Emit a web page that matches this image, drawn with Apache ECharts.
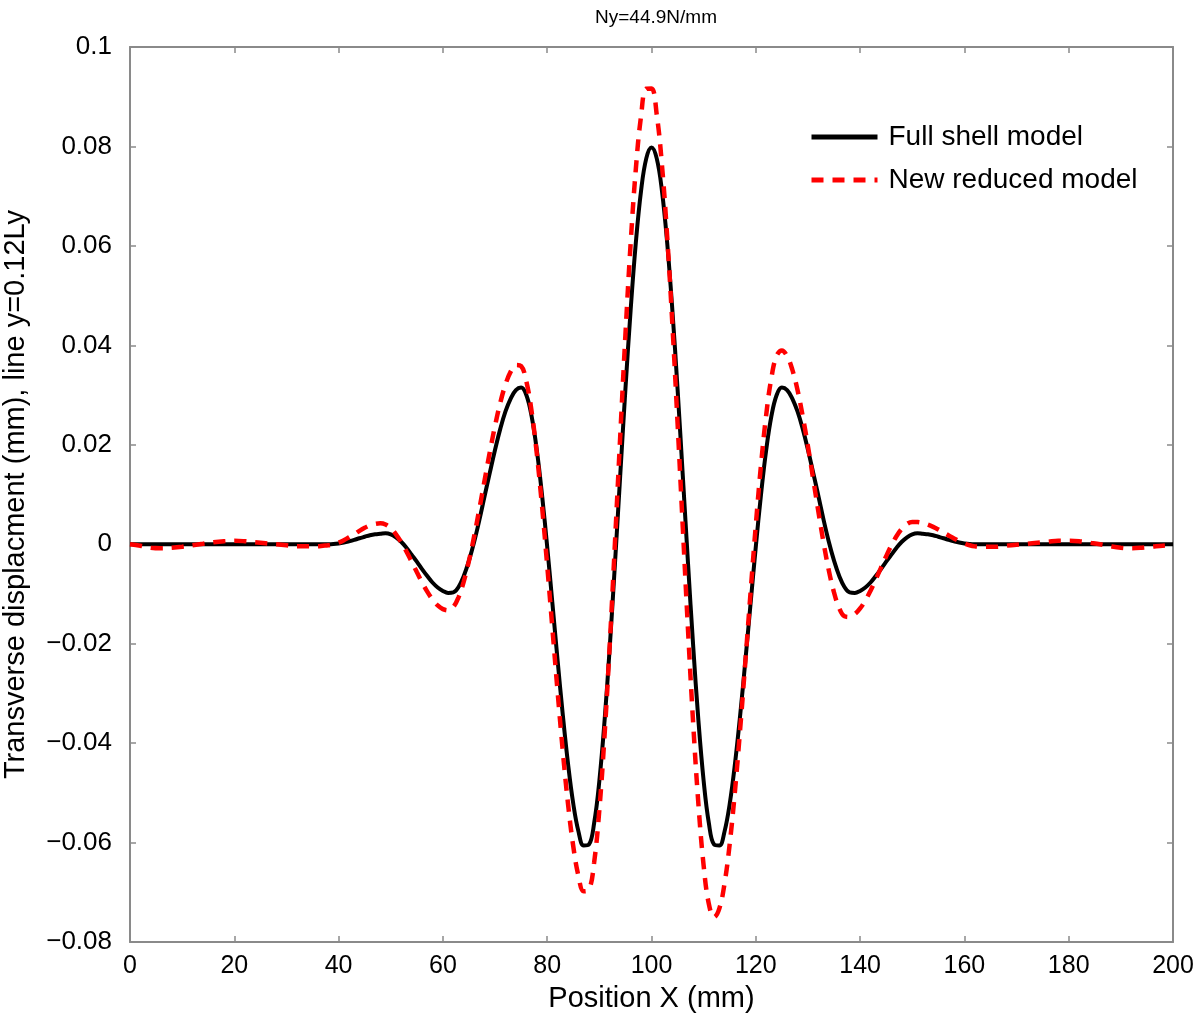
<!DOCTYPE html>
<html>
<head>
<meta charset="utf-8">
<script src="https://cdn.jsdelivr.net/npm/echarts@6/dist/echarts.min.js"></script>
<style>html,body{margin:0;padding:0;background:#fff}#c{width:1200px;height:1015px}</style>
</head>
<body>
<div id="c"></div>
<script>
// Position X (mm)
const positions = [
  0,2,4,6,8,10,12,14,16,18,20,22,24,26,28,30,32,34,
  35,36,37,38,39,40,41,42,43,44,45,46,47,48,49,50,51,52,53,54,55,56,57,58,59,60,
  61,62,63,64,65,66,67,68,69,70,71,72,73,74,75,76,77,78,79,80,
  81,82,83,84,85,86,87,88,89,90,91,92,93,94,95,96,97,98,99,100,
  101,102,103,104,105,106,107,108,109,110,111,112,113,114,115,116,117,118,119,120,
  121,122,123,124,125,126,127,128,129,130,131,132,133,134,135,136,137,138,139,140,
  141,142,143,144,145,146,147,148,149,150,151,152,153,154,155,156,157,158,159,160,
  161,162,163,164,165,
  166,168,170,172,174,176,178,180,182,184,186,188,190,192,194,196,198,200
];
// Full shell model (mm)
const fullShell = [
  0,0,0,0,0,0,0,0,0,0,0,0,0,0,0,0,0,0,
  0,0,0,0,0.00004,0.00016,0.00035,0.0006,0.00088,0.0012,0.0015,0.0018,0.002,0.0021,0.0022,0.002,0.0014,0.0005,-0.0007,-0.0021,-0.0035,-0.005,-0.0064,-0.0077,-0.0087,-0.0094,
  -0.0098,-0.0097,-0.0086,-0.0064,-0.0033,0.0005,0.0049,0.0097,0.0144,0.019,0.0232,0.0267,0.0293,0.031,0.0315,0.03,0.0258,0.019,0.01,-0.0005,
  -0.0119,-0.0234,-0.0344,-0.0442,-0.0522,-0.0578,-0.0606,-0.0604,-0.0561,-0.0476,-0.0355,-0.0206,-0.0038,0.0138,0.0312,0.0471,0.0607,0.0711,0.0776,0.0798,
  0.0776,0.0711,0.0607,0.0471,0.0312,0.0138,-0.0038,-0.0206,-0.0355,-0.0476,-0.0561,-0.0604,-0.0606,-0.0578,-0.0522,-0.0442,-0.0344,-0.0234,-0.0119,-0.0005,
  0.01,0.019,0.0258,0.03,0.0315,0.031,0.0293,0.0267,0.0232,0.019,0.0144,0.0097,0.0049,0.0005,-0.0033,-0.0064,-0.0086,-0.0097,-0.0098,-0.0094,
  -0.0087,-0.0077,-0.0064,-0.005,-0.0035,-0.0021,-0.0007,0.0005,0.0014,0.002,0.0022,0.0021,0.002,0.0018,0.0015,0.0012,0.00088,0.0006,0.00035,0.00016,
  0.00004,0,0,0,0,
  0,0,0,0,0,0,0,0,0,0,0,0,0,0,0,0,0,0
];
// New reduced model (mm)
const newReduced = [
  0,-0.0003,-0.0007,-0.0008,-0.0007,-0.0005,-0.0002,0.0001,0.0004,0.0006,0.0007,0.0006,0.0004,0.0002,0,-0.0002,-0.0004,-0.0004,
  -0.0004,-0.0004,-0.0003,-0.0002,0,0.0003,0.0008,0.0014,0.002,0.0027,0.0033,0.0038,0.0041,0.0042,0.00395,0.0032,0.002,0.00042,-0.00145,-0.0035,-0.0056,-0.00765,-0.00952,-0.0111,-0.0123,-0.01305,
  -0.0133,-0.01263,-0.01067,-0.00751,-0.00333,0.00165,0.00715,0.01289,0.01855,0.02383,0.02843,0.03213,0.03471,0.03603,0.03581,0.03274,0.02678,0.01828,0.00772,-0.00427,
  -0.017,-0.02973,-0.04172,-0.05228,-0.06078,-0.06674,-0.06981,-0.0695,-0.06402,-0.05341,-0.03841,-0.02004,0.00045,0.02165,0.04214,0.06051,0.07551,0.08612,0.0916,0.09164,
  0.08643,0.07632,0.06197,0.04427,0.02433,0.0034,-0.0172,-0.03617,-0.05233,-0.06465,-0.07237,-0.075,-0.07329,-0.06827,-0.06024,-0.04967,-0.0372,-0.02359,-0.00964,0.00381,
  0.01595,0.02606,0.03353,0.03791,0.03897,0.03783,0.03512,0.03102,0.02574,0.01969,0.01315,0.00655,0.00029,-0.00526,-0.0097,-0.01289,-0.01449,-0.01463,-0.01405,-0.01292,
  -0.01132,-0.00934,-0.0071,-0.00474,-0.00241,-0.00023,0.00164,0.00311,0.00408,0.00449,0.00445,0.00426,0.00393,0.00349,0.00296,0.00237,0.00176,0.00116,0.00061,0.00015,
  -0.0002,-0.00043,-0.0005,-0.0005,-0.0005,
  -0.0005,-0.0003,-0.0001,0.0001,0.0003,0.0005,0.0007,0.0007,0.0006,0.0003,0,-0.0004,-0.0007,-0.0008,-0.0007,-0.0005,-0.0003,-0.0002
];
const chartTitle = 'Ny=44.9N/mm';
const xName = 'Position X (mm)';
const yName = 'Transverse displacment (mm), line y=0.12Ly';
const seriesNames = ['Full shell model', 'New reduced model'];

const FONT = '"Liberation Sans", Arial, Helvetica, sans-serif';
const AX = '#8a8a8a';
const fmtY = v => parseFloat(v.toFixed(2)).toString().replace('-', '\u2212');

const chart = echarts.init(document.getElementById('c'), null, {renderer: 'canvas'});
const pairs = arr => positions.map((x, i) => [x, arr[i]]);

const baseX = {
  type: 'value', min: 0, max: 200, interval: 20,
  axisLine: {show: true, onZero: false, lineStyle: {color: AX, width: 2}},
  axisTick: {show: true, inside: true, length: 6, lineStyle: {color: AX, width: 1.5}},
  splitLine: {show: false}
};
const baseY = {
  type: 'value', min: -0.08, max: 0.1, interval: 0.02,
  axisLine: {show: true, onZero: false, lineStyle: {color: AX, width: 2}},
  axisTick: {show: true, inside: true, length: 6, lineStyle: {color: AX, width: 1.5}},
  splitLine: {show: false}
};

chart.setOption({
  backgroundColor: '#ffffff',
  animation: false,
  title: {
    text: chartTitle, left: 651, top: 3, textAlign: 'center',
    textStyle: {fontFamily: FONT, fontSize: 19, fontWeight: 'normal', color: '#000'}
  },
  grid: {left: 130, right: 27, top: 47, bottom: 73, containLabel: false, outerBoundsMode: 'none'},
  legend: {
    left: 804, top: 118, orient: 'vertical', itemGap: 15,
    itemWidth: 66, itemHeight: 14,
    itemStyle: {opacity: 0},
    lineStyle: {width: 5},
    textStyle: {fontFamily: FONT, fontSize: 28, color: '#000', padding: [0, 0, 0, 6]},
    data: seriesNames
  },
  xAxis: [
    Object.assign({}, baseX, {
      position: 'bottom',
      axisLabel: {fontFamily: FONT, fontSize: 25, color: '#000', margin: 12},
      name: xName, nameLocation: 'middle', nameGap: 42,
      nameTextStyle: {fontFamily: FONT, fontSize: 29, color: '#000'}
    }),
    Object.assign({}, baseX, {position: 'top', axisLabel: {show: false}})
  ],
  yAxis: [
    Object.assign({}, baseY, {
      position: 'left',
      axisLabel: {fontFamily: FONT, fontSize: 26, color: '#000', margin: 18, formatter: fmtY},
      name: yName, nameLocation: 'middle', nameGap: 100, nameRotate: 90,
      nameTextStyle: {fontFamily: FONT, fontSize: 29, color: '#000'}
    }),
    Object.assign({}, baseY, {position: 'right', axisLabel: {show: false}})
  ],
  series: [
    {
      name: seriesNames[0], type: 'line', xAxisIndex: 0, yAxisIndex: 0,
      data: pairs(fullShell), smooth: 0.4, symbol: 'none', showSymbol: false,
      lineStyle: {color: '#000000', width: 4},
      itemStyle: {color: '#000000'}, z: 2
    },
    {
      name: seriesNames[1], type: 'line', xAxisIndex: 0, yAxisIndex: 0,
      data: pairs(newReduced), smooth: 0.4, symbol: 'none', showSymbol: false,
      lineStyle: {color: '#ff0000', width: 4.5, type: [12, 9]},
      itemStyle: {color: '#ff0000'}, z: 3
    }
  ]
});
</script>
</body>
</html>
